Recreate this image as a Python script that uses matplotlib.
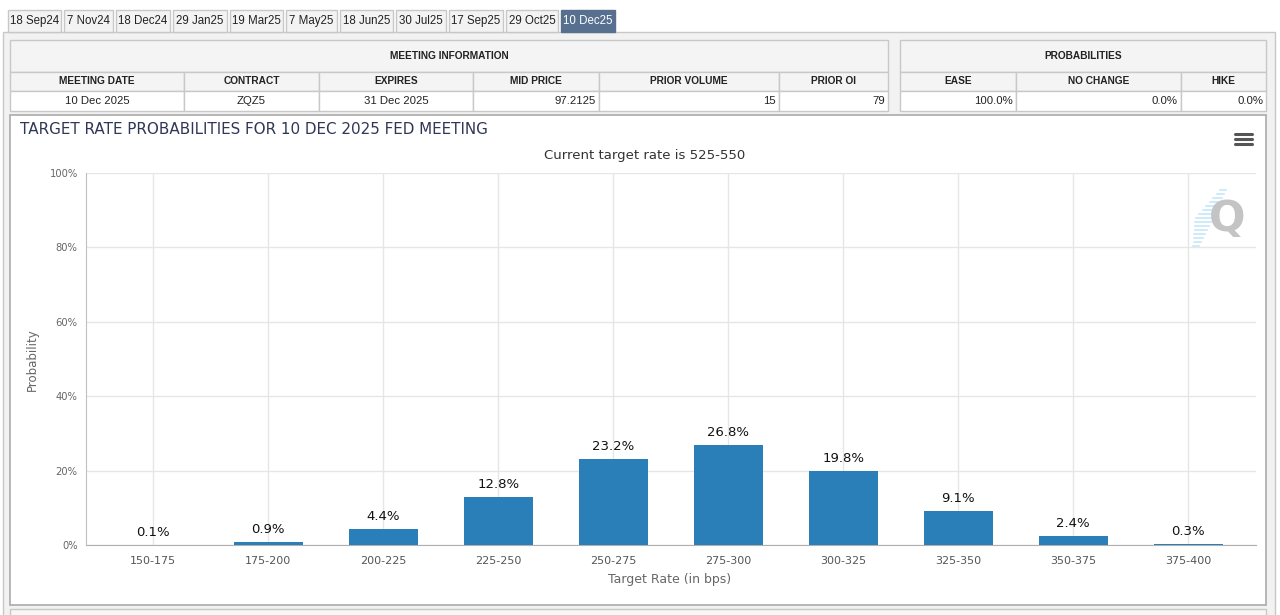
import matplotlib
matplotlib.use("Agg")
import matplotlib.pyplot as plt
from matplotlib.patches import Rectangle, FancyBboxPatch

# data
rates = ['150-175', '175-200', '200-225', '225-250', '250-275',
         '275-300', '300-325', '325-350', '350-375', '375-400']
probs = [0.1, 0.9, 4.4, 12.8, 23.2, 26.8, 19.8, 9.1, 2.4, 0.3]

tabs = ['18 Sep24', '7 Nov24', '18 Dec24', '29 Jan25', '19 Mar25', '7 May25',
        '18 Jun25', '30 Jul25', '17 Sep25', '29 Oct25', '10 Dec25']
info_cols = ['MEETING DATE', 'CONTRACT', 'EXPIRES', 'MID PRICE', 'PRIOR VOLUME', 'PRIOR OI']
info_vals = ['10 Dec 2025', 'ZQZ5', '31 Dec 2025', '97.2125', '15', '79']
prob_cols = ['EASE', 'NO CHANGE', 'HIKE']
prob_vals = ['100.0%', '0.0%', '0.0%']

W, H = 1280, 615
fig = plt.figure(figsize=(W / 100, H / 100), dpi=100)
fig.patch.set_facecolor('white')

# background layer in pixel coords
bg = fig.add_axes([0, 0, 1, 1])
bg.set_xlim(0, W)
bg.set_ylim(H, 0)
bg.axis('off')

ui = 'Liberation Sans'
border = '#c8c8c8'

# outer panel
bg.add_patch(Rectangle((3, 32), 1272, 590, fc='#f2f2f2', ec=border, lw=1))

# tabs
tab_x = [8, 64, 116, 173, 230, 286, 340, 396, 449, 506, 561]
tab_w = [53, 49, 54, 54, 53, 51, 53, 50, 54, 52, 54]
for name, x, w in zip(tabs, tab_x, tab_w):
    sel = name == '10 Dec25'
    bg.add_patch(Rectangle((x, 10), w, 22, fc='#57708f' if sel else '#f3f3f3',
                           ec='#5a6f8c' if sel else border, lw=1))
    bg.text(x + w / 2, 21, name, ha='center', va='center', family=ui, fontsize=8.3,
            color='white' if sel else '#222222')

# table helper
def table(x_edges, title, cols, vals, center_n=0):
    x0, x1 = x_edges[0], x_edges[-1]
    bg.add_patch(Rectangle((x0, 40), x1 - x0, 32, fc='#f4f4f4', ec=border, lw=1))
    bg.text((x0 + x1) / 2, 56, title, ha='center', va='center', family=ui,
            fontsize=7.3, fontweight='bold', color='#222222')
    for i in range(len(cols)):
        a, b = x_edges[i], x_edges[i + 1]
        bg.add_patch(Rectangle((a, 72), b - a, 19, fc='#f4f4f4', ec=border, lw=1))
        bg.add_patch(Rectangle((a, 91), b - a, 20, fc='white', ec=border, lw=1))
        bg.text((a + b) / 2, 81.5, cols[i], ha='center', va='center', family=ui,
                fontsize=7.3, fontweight='bold', color='#222222')
        if i < center_n:
            bg.text((a + b) / 2, 101, vals[i], ha='center', va='center', family=ui,
                    fontsize=8.2, color='#222222')
        else:
            bg.text(b - 3, 101, vals[i], ha='right', va='center', family=ui,
                    fontsize=8.2, color='#222222')

table([10, 184, 319, 473, 599, 779, 888], 'MEETING INFORMATION', info_cols, info_vals, 3)
table([900, 1016, 1181, 1266], 'PROBABILITIES', prob_cols, prob_vals)

# chart panel
bg.add_patch(Rectangle((10, 115), 1256, 490, fc='white', ec='#aaaaaa', lw=1.2))
bg.add_patch(Rectangle((10, 609), 1256, 20, fc='#f7f7f7', ec=border, lw=1))

bg.text(20, 130, 'TARGET RATE PROBABILITIES FOR 10 DEC 2025 FED MEETING', ha='left',
        va='center', fontsize=10.9, color='#2f3757')
bg.text(645, 155, 'Current target rate is 525-550', ha='center', va='center',
        fontsize=9.5, color='#333333')

# hamburger menu
for yy in [134, 139, 144]:
    bg.plot([1235, 1252], [yy, yy], color='#555555', lw=2.2, solid_capstyle='round')

# Q logo
for k in range(15):
    y = 190 + k * 4
    xr = 1226 - k * 1.9
    ln = 6 + (7 - abs(k - 7)) * 1.6
    bg.plot([xr - ln, xr], [y, y], color='#bfe6f6', lw=1.1)
bg.text(1227, 219, 'Q', ha='center', va='center', fontsize=31, fontweight='bold',
        color='#c4c4c4')

bg.text(32, 360, 'Probability', rotation=90, ha='center', va='center',
        fontsize=8.5, color='#666666')
bg.text(670, 580, 'Target Rate (in bps)', ha='center', va='center',
        fontsize=9, color='#666666')

# chart axes
ax = fig.add_axes([86 / W, 1 - 545 / H, (1256 - 86) / W, (545 - 173) / H])
ax.set_facecolor('none')
xs = list(range(len(rates)))
bars = ax.bar(xs, probs, width=0.6, color='#2a7fb8', zorder=3)
for x, p in zip(xs, probs):
    ax.text(x, p + 1.6, f'{p}%', ha='center', va='bottom', fontsize=9.5, color='#111111')

ax.set_xlim(-0.585, 9.59)
ax.set_ylim(0, 100)
ax.set_yticks(range(0, 101, 20))
ax.set_yticklabels([f'{v}%' for v in range(0, 101, 20)], fontsize=7.2, color='#666666')
ax.set_xticks(xs)
ax.set_xticklabels(rates, fontsize=8, color='#555555')
ax.grid(True, color='#e6e6e6', lw=1, zorder=0)
ax.tick_params(axis='y', length=0, pad=6)
ax.tick_params(axis='x', length=0, pad=8)
for s in ['top', 'right']:
    ax.spines[s].set_visible(False)
ax.spines['left'].set_color('#c0c0c0')
ax.spines['bottom'].set_color('#b0b0b0')

fig.savefig('out.png', dpi=100)
